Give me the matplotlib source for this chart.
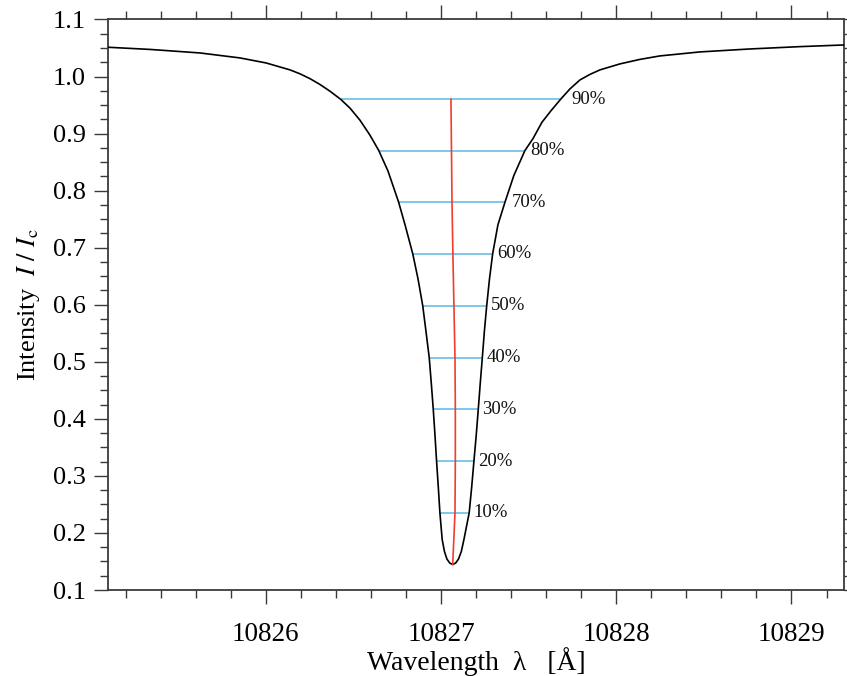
#------------------------------------------------------------------------------
# He I 10830 line profile with bisector and percentage depth levels.
#------------------------------------------------------------------------------

import matplotlib as mpl
mpl.use('Agg')
import matplotlib.pyplot as plt
import matplotlib.ticker as ticker

# Observed profile: wavelength [A] and normalised intensity I/Ic
wavelength = [10825.100, 10825.340, 10825.625, 10825.853, 10826.002,
              10826.139, 10826.196, 10826.253, 10826.310, 10826.367,
              10826.428, 10826.481, 10826.538, 10826.595, 10826.645,
              10826.698, 10826.758, 10826.795, 10826.839, 10826.869,
              10826.896, 10826.914, 10826.933, 10826.945, 10826.956,
              10826.966, 10826.975, 10826.985, 10826.994, 10827.007,
              10827.020, 10827.034, 10827.050, 10827.067, 10827.084,
              10827.100, 10827.116, 10827.131, 10827.161, 10827.175,
              10827.188, 10827.201, 10827.213, 10827.224, 10827.236,
              10827.248, 10827.261, 10827.277, 10827.295, 10827.325,
              10827.365, 10827.416, 10827.479, 10827.525, 10827.576,
              10827.628, 10827.683, 10827.736, 10827.793, 10827.850,
              10827.907, 10828.021, 10828.135, 10828.249, 10828.477,
              10828.763, 10829.048, 10829.299]
intensity = [1.0513, 1.0475, 1.0413, 1.0326, 1.0238,
             1.0116, 1.0047, 0.9962, 0.9860, 0.9742,
             0.9600, 0.9446, 0.9234, 0.8971, 0.8704,
             0.8341, 0.7802, 0.7401, 0.6893, 0.6455,
             0.5982, 0.5545, 0.5072, 0.4616, 0.4170,
             0.3706, 0.3256, 0.2795, 0.2352, 0.1884,
             0.1674, 0.1543, 0.1473, 0.1447, 0.1473,
             0.1543, 0.1674, 0.1884, 0.2352, 0.2795,
             0.3256, 0.3706, 0.4170, 0.4616, 0.5072,
             0.5545, 0.5982, 0.6455, 0.6893, 0.7401,
             0.7795, 0.8266, 0.8702, 0.8911, 0.9197,
             0.9401, 0.9602, 0.9783, 0.9940, 1.0037,
             1.0116, 1.0221, 1.0300, 1.0361, 1.0431,
             1.0483, 1.0524, 1.0553]

# Depth levels (10% .. 90%) and where each chord meets the two wings
level_labels = ['10%', '20%', '30%', '40%', '50%', '60%', '70%', '80%', '90%']
level_intensity = [0.2352, 0.3256, 0.4170, 0.5072, 0.5982,
                   0.6893, 0.7795, 0.8702, 0.9602]
level_blue_wing = [10826.994, 10826.975, 10826.956, 10826.933, 10826.896,
                   10826.839, 10826.758, 10826.645, 10826.428]
level_red_wing = [10827.161, 10827.188, 10827.213, 10827.236, 10827.261,
                  10827.295, 10827.365, 10827.479, 10827.683]

# Bisector: line core followed by chord midpoints
bisector_wavelength = [10827.067, 10827.080, 10827.082, 10827.082, 10827.080,
                       10827.074, 10827.068, 10827.063, 10827.060, 10827.057]
bisector_intensity = [0.1447, 0.2352, 0.3256, 0.4170, 0.5072,
                      0.5982, 0.6893, 0.7795, 0.8702, 0.9602]

# Label nudge (points) to the right of each chord end
label_offset = [3, 3, 3, 3, 3, 3, 5, 4, 8]

CHORD_COLOUR = '#5bb8e6'
BISECTOR_COLOUR = '#f23c2c'
AXIS_COLOUR = '#3a3a3a'

#------------------------------------------------------------------------------
def draw_profile() -> None:
    plt.rcParams['font.family'] = ['Liberation Serif', 'DejaVu Serif']
    plt.rcParams['mathtext.fontset'] = 'stix'

    fig = plt.figure(figsize=(8.47, 6.76), dpi=100)
    ax = fig.add_axes([0.1275, 0.1272, 0.8690, 0.8440])

    # Chords at each depth level, labelled at the red-wing end
    ax.hlines(level_intensity, level_blue_wing, level_red_wing,
              colors=CHORD_COLOUR, linewidth=1.1, zorder=2)
    for lab, yv, xr, dx in zip(level_labels, level_intensity,
                               level_red_wing, label_offset):
        ax.annotate(lab, xy=(xr, yv), xytext=(dx, 0),
                    textcoords='offset points', ha='left', va='center',
                    fontsize=13.5, color='#111111')

    ax.plot(wavelength, intensity, '-', color='black', linewidth=1.2, zorder=3)
    ax.plot(bisector_wavelength, bisector_intensity, '-',
            color=BISECTOR_COLOUR, linewidth=1.2, zorder=4)

    ax.set_xlim(10825.1, 10829.3)
    ax.set_ylim(0.1, 1.1)

    ax.xaxis.set_major_locator(ticker.MultipleLocator(1))
    ax.xaxis.set_minor_locator(ticker.MultipleLocator(0.2))
    ax.xaxis.set_major_formatter(ticker.FormatStrFormatter('%d'))
    ax.yaxis.set_major_locator(ticker.MultipleLocator(0.1))
    ax.yaxis.set_minor_locator(ticker.MultipleLocator(0.025))
    ax.yaxis.set_major_formatter(ticker.FormatStrFormatter('%.1f'))

    ax.tick_params(which='both', direction='out', top=True, right=True,
                   color=AXIS_COLOUR, width=1.0, labelsize=19)
    ax.tick_params(axis='x', labelsize=19.5)
    ax.tick_params(which='major', length=10)
    ax.tick_params(which='minor', length=5.5)
    ax.tick_params(axis='x', which='major', pad=13)
    ax.tick_params(axis='y', which='major', pad=6)
    for side in ax.spines.values():
        side.set_color(AXIS_COLOUR)
        side.set_linewidth(1.3)

    ax.set_xlabel('Wavelength  λ   [Å]', fontsize=20, labelpad=0)
    ax.set_ylabel(r'Intensity  $I\ /\ I_{\mathrm{c}}$', fontsize=19,
                  labelpad=8)

    fig.savefig('out.png', dpi=100)

#------------------------------------------------------------------------------
if __name__ == '__main__':
    draw_profile()
